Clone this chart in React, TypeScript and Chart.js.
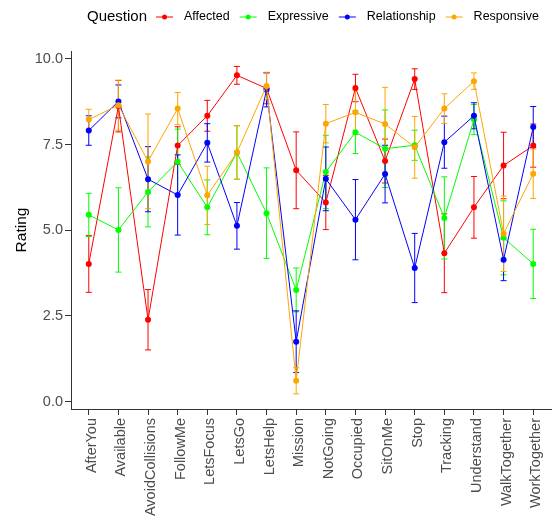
import React, { useEffect, useRef } from "react";
import { Chart, registerables } from "chart.js";

Chart.register(...registerables);

const categories = [
  "AfterYou", "Available", "AvoidCollisions", "FollowMe", "LetsFocus", "LetsGo",
  "LetsHelp", "Mission", "NotGoing", "Occupied", "SitOnMe", "Stop", "Tracking",
  "Understand", "WalkTogether", "WorkTogether",
];

const seriesNames = ["Affected", "Expressive", "Relationship", "Responsive"];
const seriesColors = ["#FF0000", "#00FF00", "#0000FF", "#FFA500"];

const affected = [4.02, 8.62, 2.39, 7.47, 8.34, 9.52, 9.14, 6.75, 5.81, 9.15, 7.02, 9.41, 4.33, 5.67, 6.89, 7.47];
const affectedErr = [0.83, 0.75, 0.88, 0.55, 0.45, 0.26, 0.45, 1.12, 0.79, 0.4, 0.64, 0.3, 1.15, 0.9, 0.97, 0.63];

const expressive = [5.45, 5.01, 6.12, 7.0, 5.67, 7.27, 5.5, 3.26, 6.7, 7.86, 7.38, 7.48, 5.36, 8.23, 4.78, 4.02];
const expressiveErr = [0.63, 1.23, 1.02, 0.95, 0.8, 0.78, 1.32, 0.64, 1.07, 0.62, 1.13, 0.44, 1.2, 0.44, 1.08, 1.01];

const relationship = [7.91, 8.76, 6.49, 6.03, 7.55, 5.13, 9.1, 1.75, 6.5, 5.31, 6.64, 3.9, 7.57, 8.34, 4.14, 8.01];
const relationshipErr = [0.43, 0.48, 0.95, 1.17, 0.56, 0.68, 0.5, 0.9, 0.93, 1.17, 0.84, 1.01, 0.76, 0.38, 0.61, 0.6];

const responsive = [8.23, 8.65, 7.01, 8.55, 6.02, 7.27, 9.21, 0.61, 8.11, 8.44, 8.1, 7.42, 8.55, 9.35, 4.9, 6.65];
const responsiveErr = [0.3, 0.73, 1.38, 0.47, 0.85, 0.78, 0.4, 0.38, 0.56, 0.65, 1.07, 0.9, 0.43, 0.24, 1.1, 0.72];

const yTicks = [0, 2.5, 5, 7.5, 10];
const legendTitle = "Question";
const yTitle = "Rating";

const FONT = "'Liberation Sans', Arial, Helvetica, sans-serif";

export default function App() {
  const ref = useRef<HTMLCanvasElement>(null);

  useEffect(() => {
    if (!ref.current) return;
    const values = [affected, expressive, relationship, responsive];
    const errs = [affectedErr, expressiveErr, relationshipErr, responsiveErr];

    const datasets = values.map((vals, s) => ({
      label: seriesNames[s],
      data: vals.map((v, i) => ({ x: i + 1, y: v })),
      errors: errs[s],
      borderColor: seriesColors[s],
      backgroundColor: seriesColors[s],
      borderWidth: 1,
      pointRadius: 3,
      pointHoverRadius: 3,
      pointBorderWidth: 0,
      order: values.length - s,
      tension: 0,
      fill: false,
    }));

    const errorBars = {
      id: "errorBars",
      beforeDatasetsDraw(chart: any) {
        const { ctx } = chart;
        const x = chart.scales.x;
        const y = chart.scales.y;
        ctx.save();
        chart.data.datasets.forEach((ds: any) => {
          ctx.strokeStyle = ds.borderColor;
          ctx.lineWidth = 1;
          ds.data.forEach((p: any, i: number) => {
            const e = ds.errors[i];
            const px = x.getPixelForValue(p.x);
            const y1 = y.getPixelForValue(p.y + e);
            const y2 = y.getPixelForValue(p.y - e);
            ctx.beginPath();
            ctx.moveTo(px, y1);
            ctx.lineTo(px, y2);
            ctx.moveTo(px - 3, y1);
            ctx.lineTo(px + 3, y1);
            ctx.moveTo(px - 3, y2);
            ctx.lineTo(px + 3, y2);
            ctx.stroke();
          });
        });
        ctx.restore();
      },
    };

    const customLegend = {
      id: "customLegend",
      afterDraw(chart: any) {
        const ctx = chart.ctx;
        ctx.save();
        const cy = 17;
        let xPos = 87;
        ctx.textBaseline = "middle";
        ctx.textAlign = "left";
        ctx.font = `15px ${FONT}`;
        ctx.fillStyle = "#000";
        ctx.fillText(legendTitle, xPos, cy);
        xPos += ctx.measureText(legendTitle).width + 9;
        ctx.font = `12.5px ${FONT}`;
        chart.data.datasets.forEach((ds: any) => {
          ctx.strokeStyle = ds.borderColor;
          ctx.fillStyle = ds.borderColor;
          ctx.lineWidth = 1;
          ctx.beginPath();
          ctx.moveTo(xPos, cy);
          ctx.lineTo(xPos + 17, cy);
          ctx.stroke();
          ctx.beginPath();
          ctx.arc(xPos + 8.5, cy, 2.5, 0, Math.PI * 2);
          ctx.fill();
          xPos += 17 + 11;
          ctx.fillStyle = "#000";
          ctx.fillText(ds.label, xPos, cy);
          xPos += ctx.measureText(ds.label).width + 10;
        });
        ctx.restore();
      },
    };

    const chart = new Chart(ref.current, {
      type: "line",
      data: { datasets: datasets as any },
      options: {
        animation: false,
        responsive: true,
        maintainAspectRatio: false,
        events: [],
        layout: { padding: { top: 51, left: 0, right: 0, bottom: 0 } },
        plugins: {
          legend: { display: false },
          tooltip: { enabled: false },
        },
        scales: {
          x: {
            type: "linear",
            min: 0.4,
            max: 16.6,
            afterBuildTicks: (s: any) => {
              s.ticks = categories.map((_, i) => ({ value: i + 1 }));
            },
            afterFit: (s: any) => {
              s.height = 115;
              s.paddingLeft = 0;
              s.paddingRight = 0;
            },
            ticks: {
              autoSkip: false,
              maxRotation: 90,
              minRotation: 90,
              padding: 3,
              labelOffset: 3,
              color: "#4d4d4d",
              font: { size: 14.5, family: FONT, weight: "normal" },
              callback: (v: any) => categories[Math.round(Number(v)) - 1] ?? "",
            },
            grid: {
              display: true,
              drawOnChartArea: false,
              drawTicks: true,
              tickLength: 6,
              color: "#333333",
            },
            border: { display: true, color: "#333333", width: 1 },
          },
          y: {
            type: "linear",
            min: -0.213,
            max: 10.23,
            afterBuildTicks: (s: any) => {
              s.ticks = yTicks.map((v) => ({ value: v }));
            },
            afterFit: (s: any) => {
              s.width = 71;
            },
            ticks: {
              padding: 2,
              color: "#4d4d4d",
              font: { size: 14.5, family: FONT, weight: "normal" },
              callback: (v: any) => Number(v).toFixed(1),
            },
            grid: {
              display: true,
              drawOnChartArea: false,
              drawTicks: true,
              tickLength: 6,
              color: "#333333",
            },
            border: { display: true, color: "#333333", width: 1 },
            title: {
              display: true,
              text: yTitle,
              color: "#000",
              font: { size: 15.5, family: FONT, weight: "normal" },
              padding: { top: 12, bottom: 0 },
            },
          },
        },
      },
      plugins: [errorBars, customLegend],
    });

    return () => chart.destroy();
  }, []);

  return (
    <div style={{ position: "fixed", left: 0, top: 0, width: 554, height: 524, background: "#fff" }}>
      <canvas ref={ref} />
    </div>
  );
}
